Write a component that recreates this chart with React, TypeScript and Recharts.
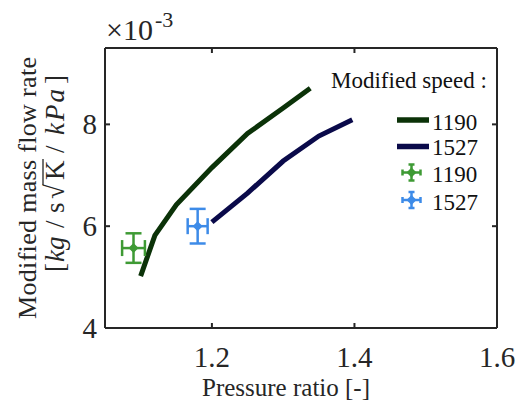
import {
  ComposedChart,
  Line,
  Scatter,
  ErrorBar,
  XAxis,
  YAxis,
  Legend,
} from "recharts";

// model curves (y in units of 1e-3)
const xLow = [1.1, 1.12, 1.15, 1.2, 1.25, 1.3, 1.338];
const yLow = [5.02, 5.82, 6.42, 7.15, 7.82, 8.32, 8.71];
const xHigh = [1.2, 1.25, 1.3, 1.35, 1.397];
const yHigh = [6.08, 6.65, 7.28, 7.77, 8.09];

// measured points with error bars
const measX = [1.09, 1.18];
const measY = [5.57, 6.0];
const measErrX = [0.016, 0.014];
const measErrY = [0.29, 0.34];

const speeds = ["1190", "1527"];
const xTicks = [1.2, 1.4, 1.6];
const yTicks = [4, 6, 8];

const GREEN_LINE = "#0b3208";
const NAVY_LINE = "#0a0a4a";
const GREEN_PT = "#3e9a34";
const BLUE_PT = "#3d8be8";
const AXIS = "#262626";
const FONT = "'Liberation Serif', 'Times New Roman', serif";

const lowData = xLow.map((x, i) => ({ x, y: yLow[i] }));
const highData = xHigh.map((x, i) => ({ x, y: yHigh[i] }));
const measData = measX.map((x, i) => ({
  x,
  y: measY[i],
  ex: measErrX[i],
  ey: measErrY[i],
}));

const fmt = (v: number) => (Number.isInteger(v) ? String(v) : v.toFixed(1));

function BottomTick({ x, y, payload }: any) {
  return (
    <g>
      <line x1={x} x2={x} y1={y} y2={y - 5} stroke={AXIS} strokeWidth={2} />
      <text x={x} y={y + 39} textAnchor="middle" fontSize={29} fontFamily={FONT} fill="#262626">
        {fmt(payload.value)}
      </text>
    </g>
  );
}

function TopTick({ x, y }: any) {
  return <line x1={x} x2={x} y1={y} y2={y + 5} stroke={AXIS} strokeWidth={2} />;
}

function LeftTick({ x, y, payload }: any) {
  return (
    <g>
      <line x1={x} x2={x + 5} y1={y} y2={y} stroke={AXIS} strokeWidth={2} />
      <text x={x - 8} y={y + 10} textAnchor="end" fontSize={29} fontFamily={FONT} fill="#262626">
        {fmt(payload.value)}
      </text>
    </g>
  );
}

function RightTick({ x, y }: any) {
  return <line x1={x} x2={x - 5} y1={y} y2={y} stroke={AXIS} strokeWidth={2} />;
}

// unit line: glyph start positions along the rotated baseline
function YLabel() {
  return (
    <g fontFamily={FONT} fill="#262626">
      <text
        transform="translate(36,188) rotate(-90)"
        textAnchor="middle"
        fontSize={26}
        textLength={262}
        lengthAdjust="spacing"
      >
        Modified mass flow rate
      </text>
      <g transform="translate(64,0) rotate(-90)">
        <text y={0} fontSize={27}>
          <tspan x={-272}>[</tspan>
          <tspan x={-262} fontStyle="italic">kg</tspan>
          <tspan x={-228}>/</tspan>
          <tspan x={-213}>s</tspan>
          <tspan x={-199}>√</tspan>
          <tspan x={-180}>K</tspan>
          <tspan x={-153}>/</tspan>
          <tspan x={-135} fontStyle="italic" letterSpacing={2}>kPa</tspan>
          <tspan x={-84}>]</tspan>
        </text>
        <line x1={-185} x2={-159} y1={-21} y2={-21} stroke="#262626" strokeWidth={1.3} />
      </g>
    </g>
  );
}

function XLabel() {
  return (
    <text x={286} y={396} textAnchor="middle" fontSize={25} fontFamily={FONT} fill="#262626">
      Pressure ratio [-]
    </text>
  );
}

function Exponent() {
  return (
    <text x={106} y={40} fontSize={30} fontFamily={FONT} fill="#262626">
      ×10
      <tspan fontSize={22} dx={2} dy={-13}>-3</tspan>
    </text>
  );
}

function Diamond({ cx, cy, fill }: any) {
  const r = 5;
  return (
    <polygon
      points={`${cx},${cy - r} ${cx + r},${cy} ${cx},${cy + r} ${cx - r},${cy}`}
      fill={fill}
    />
  );
}

function ErrGlyph({ cx, cy, color }: { cx: number; cy: number; color: string }) {
  return (
    <g stroke={color} strokeWidth={2.5}>
      <line x1={cx} x2={cx} y1={cy - 8} y2={cy + 8} />
      <line x1={cx - 3} x2={cx + 3} y1={cy - 8} y2={cy - 8} />
      <line x1={cx - 3} x2={cx + 3} y1={cy + 8} y2={cy + 8} />
      <line x1={cx - 9} x2={cx + 9} y1={cy} y2={cy} />
      <line x1={cx - 9} x2={cx - 9} y1={cy - 3} y2={cy + 3} />
      <line x1={cx + 9} x2={cx + 9} y1={cy - 3} y2={cy + 3} />
      <polygon
        points={`${cx},${cy - 5} ${cx + 5},${cy} ${cx},${cy + 5} ${cx - 5},${cy}`}
        fill={color}
        stroke="none"
      />
    </g>
  );
}

function LegendBox() {
  return (
    <svg width={190} height={160} style={{ display: "block" }}>
      <g fontFamily={FONT} fill="#111" fontSize={23}>
        <text x={11} y={30}>Modified speed :</text>
        <line x1={77} x2={109} y1={62} y2={62} stroke={GREEN_LINE} strokeWidth={5.5} />
        <text x={112} y={72}>{speeds[0]}</text>
        <line x1={77} x2={109} y1={88.5} y2={88.5} stroke={NAVY_LINE} strokeWidth={5.5} />
        <text x={112} y={97}>{speeds[1]}</text>
        <ErrGlyph cx={91.5} cy={114.5} color={GREEN_PT} />
        <text x={112} y={124}>{speeds[0]}</text>
        <ErrGlyph cx={91.5} cy={142} color={BLUE_PT} />
        <text x={112} y={152}>{speeds[1]}</text>
      </g>
    </svg>
  );
}

export default function App() {
  return (
    <div style={{ position: "absolute", left: 0, top: 0, background: "#fff" }}>
      <ComposedChart
        width={515}
        height={405}
        margin={{ top: 47, right: 17, bottom: 0, left: 0 }}
      >
        <XAxis
          xAxisId="b"
          type="number"
          dataKey="x"
          domain={[1.05, 1.6]}
          allowDataOverflow
          ticks={xTicks}
          interval={0}
          height={77}
          tickSize={0}
          tickMargin={0}
          tickLine={false}
          tick={<BottomTick />}
          axisLine={{ stroke: AXIS, strokeWidth: 2 }}
          label={<XLabel />}
        />
        <XAxis
          xAxisId="t"
          orientation="top"
          type="number"
          dataKey="x"
          domain={[1.05, 1.6]}
          allowDataOverflow
          ticks={xTicks}
          interval={0}
          height={1}
          tickSize={0}
          tickMargin={0}
          tickLine={false}
          tick={<TopTick />}
          axisLine={{ stroke: AXIS, strokeWidth: 2 }}
          label={<Exponent />}
        />
        <YAxis
          yAxisId="l"
          type="number"
          dataKey="y"
          domain={[4, 9.5]}
          allowDataOverflow
          ticks={yTicks}
          interval={0}
          width={105}
          tickSize={0}
          tickMargin={0}
          tickLine={false}
          tick={<LeftTick />}
          axisLine={{ stroke: AXIS, strokeWidth: 2 }}
          label={<YLabel />}
        />
        <YAxis
          yAxisId="r"
          orientation="right"
          type="number"
          dataKey="y"
          domain={[4, 9.5]}
          allowDataOverflow
          ticks={yTicks}
          interval={0}
          width={1}
          tickSize={0}
          tickMargin={0}
          tickLine={false}
          tick={<RightTick />}
          axisLine={{ stroke: AXIS, strokeWidth: 2 }}
        />
        <Line
          xAxisId="t"
          yAxisId="r"
          data={lowData}
          dataKey="y"
          stroke="none"
          dot={false}
          activeDot={false}
          legendType="none"
          isAnimationActive={false}
        />
        <Line
          xAxisId="b"
          yAxisId="l"
          data={lowData}
          dataKey="y"
          type="linear"
          stroke={GREEN_LINE}
          strokeWidth={5}
          dot={false}
          activeDot={false}
          isAnimationActive={false}
        />
        <Line
          xAxisId="b"
          yAxisId="l"
          data={highData}
          dataKey="y"
          type="linear"
          stroke={NAVY_LINE}
          strokeWidth={5}
          dot={false}
          activeDot={false}
          isAnimationActive={false}
        />
        <Scatter
          xAxisId="b"
          yAxisId="l"
          data={[measData[0]]}
          dataKey="y"
          fill={GREEN_PT}
          shape={<Diamond />}
          isAnimationActive={false}
        >
          <ErrorBar dataKey="ey" direction="y" width={8} stroke={GREEN_PT} strokeWidth={2.5} isAnimationActive={false} />
          <ErrorBar dataKey="ex" direction="x" width={8} stroke={GREEN_PT} strokeWidth={2.5} isAnimationActive={false} />
        </Scatter>
        <Scatter
          xAxisId="b"
          yAxisId="l"
          data={[measData[1]]}
          dataKey="y"
          fill={BLUE_PT}
          shape={<Diamond />}
          isAnimationActive={false}
        >
          <ErrorBar dataKey="ey" direction="y" width={8} stroke={BLUE_PT} strokeWidth={2.5} isAnimationActive={false} />
          <ErrorBar dataKey="ex" direction="x" width={8} stroke={BLUE_PT} strokeWidth={2.5} isAnimationActive={false} />
        </Scatter>
        <Legend
          layout="vertical"
          align="center"
          verticalAlign="middle"
          content={<LegendBox />}
          wrapperStyle={{ left: 320, top: 58, width: 190, height: 160 }}
        />
      </ComposedChart>
    </div>
  );
}
